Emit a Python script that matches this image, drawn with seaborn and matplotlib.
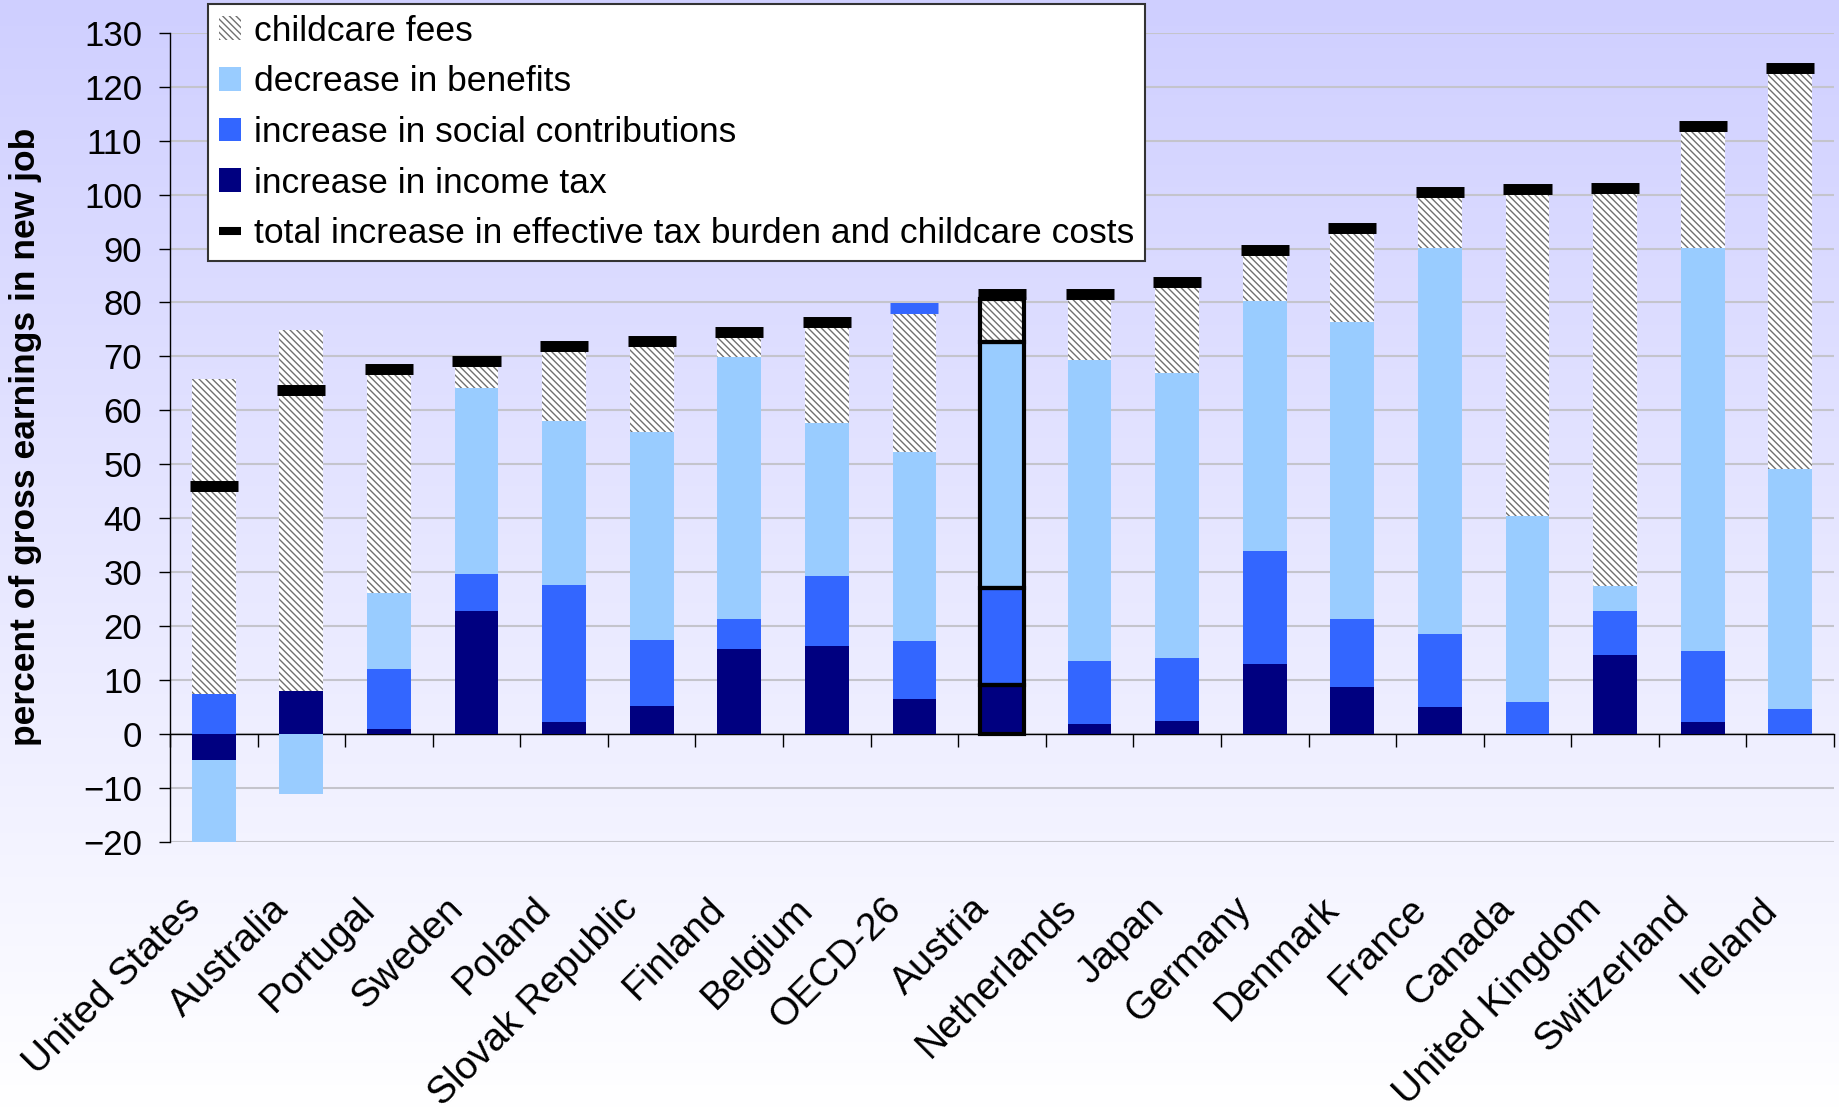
import numpy as np
import matplotlib
matplotlib.use("Agg")
import matplotlib.pyplot as plt
from matplotlib.patches import Patch
from matplotlib.lines import Line2D
from matplotlib.transforms import ScaledTranslation
import seaborn as sns

# data (percent of gross earnings in new job)
countries = ["United States", "Australia", "Portugal", "Sweden", "Poland",
             "Slovak Republic", "Finland", "Belgium", "OECD-26", "Austria",
             "Netherlands", "Japan", "Germany", "Denmark", "France", "Canada",
             "United Kingdom", "Switzerland", "Ireland"]
income_tax = [-4.8, 8.0, 0.9, 22.8, 2.2, 5.2, 15.8, 16.3, 6.5, 9.1,
              1.9, 2.4, 12.9, 8.7, 5.0, 0.0, 14.6, 2.2, 0.0]
social_contrib = [7.5, 0.0, 11.1, 6.9, 25.4, 12.2, 5.5, 13.0, 10.7, 17.9,
                  11.6, 11.7, 21.0, 12.6, 13.5, 6.0, 8.3, 13.2, 4.6]
benefits = [-15.3, -11.1, 14.1, 34.5, 30.4, 38.6, 48.6, 28.3, 35.1, 45.6,
            55.9, 52.8, 46.4, 55.1, 71.6, 34.4, 4.5, 74.7, 44.6]
childcare = [58.4, 66.9, 40.4, 3.9, 13.0, 15.9, 3.6, 17.8, 25.5, 8.1,
             11.2, 16.0, 8.4, 16.4, 9.2, 59.5, 72.9, 21.5, 73.2]
total = [46.0, 63.8, 67.6, 69.1, 72.0, 72.9, 74.6, 76.4, 79.0, 81.6,
         81.5, 83.8, 89.7, 93.8, 100.4, 101.0, 101.3, 112.7, 123.4]

labels = ["childcare fees", "decrease in benefits",
          "increase in social contributions", "increase in income tax",
          "total increase in effective tax burden and childcare costs"]

C_INCOME = "#000080"
C_SOCIAL = "#3366FF"
C_BENEF = "#99CCFF"
HATCH = "\\" * 5
HATCH_COL = "#707070"
highlight = "Austria"
avg_name = "OECD-26"

plt.rcParams["font.family"] = ["Liberation Sans", "DejaVu Sans"]
plt.rcParams["hatch.linewidth"] = 1.0

fig = plt.figure(figsize=(18.4, 11.11), dpi=100)

# lavender -> white background over the whole picture
bg = fig.add_axes([0, 0, 1, 1], zorder=-10)
grad = np.linspace(0, 1, 256)[:, None]
top = np.array([207, 207, 255]) / 255
bot = np.array([255, 255, 255]) / 255
img = top[None, None, :] * (1 - grad[..., None]) + bot[None, None, :] * grad[..., None]
bg.imshow(img, aspect="auto", extent=[0, 1, 0, 1])
bg.axis("off")

ax = fig.add_axes([170 / 1840, 1 - 842 / 1111, 1664 / 1840, (842 - 32.7) / 1111])
ax.set_facecolor("none")

# stack positive and negative parts separately (like Excel)
series = [(income_tax, dict(color=C_INCOME)),
          (social_contrib, dict(color=C_SOCIAL)),
          (benefits, dict(color=C_BENEF)),
          (childcare, dict(color="white", edgecolor=HATCH_COL, hatch=HATCH))]
pos = np.zeros(len(countries))
neg = np.zeros(len(countries))
bottoms = []
for vals, kw in series:
    v = np.array(vals)
    b = np.where(v >= 0, pos, neg)
    bottoms.append(b)
    sns.barplot(x=countries, y=v, bottom=b, width=0.5, linewidth=0,
                saturation=1, errorbar=None, ax=ax, zorder=3, **kw)
    pos = pos + np.clip(v, 0, None)
    neg = neg + np.clip(v, None, 0)

# black outline around the highlighted country
hi = countries.index(highlight)
for (vals, kw), b in zip(series, bottoms):
    sns.barplot(x=[highlight], y=[vals[hi]], bottom=[b[hi]], order=countries,
                width=0.5, fill=False, edgecolor="black", linewidth=3,
                errorbar=None, ax=ax, zorder=4)

# total markers
mcol = [C_SOCIAL if c == avg_name else "black" for c in countries]
ax.scatter(np.arange(len(countries)), total, marker="_", s=34.6 ** 2,
           linewidths=7.9, c=mcol, zorder=5)

ax.set_xlim(-0.5, len(countries) - 0.5)
ax.set_ylim(-20, 130)
ax.set_yticks(np.arange(-20, 131, 10))
ax.yaxis.grid(True, color="#C4C4CC", linewidth=1.5, zorder=0)
ax.set_axisbelow(True)

for s in ["top", "right"]:
    ax.spines[s].set_visible(False)
ax.spines["bottom"].set_position(("data", 0))
ax.spines["bottom"].set_linewidth(1.0)
ax.spines["left"].set_linewidth(1.0)
ax.spines["left"].set_bounds(-20, 130)

ax.tick_params(axis="y", length=8, width=1, pad=12, labelsize=25)
ax.set_xticks(np.arange(len(countries)))
ax.set_xticks(np.arange(len(countries) + 1) - 0.5, minor=True)
ax.tick_params(axis="x", which="major", length=0, pad=122)
ax.tick_params(axis="x", which="minor", length=9, width=1, direction="out")
ax.set_xticklabels(countries, rotation=45, ha="right", va="center",
                   rotation_mode="anchor", fontsize=28)
shift = ScaledTranslation(-19 / 100, 0, fig.dpi_scale_trans)
for t in ax.get_xticklabels():
    t.set_transform(t.get_transform() + shift)
ax.set_xlabel("")

ax.set_ylabel("percent of gross earnings in new job", fontsize=25.5,
              fontweight="bold")
ax.yaxis.set_label_coords(-0.077, 0.5)

handles = [Patch(facecolor="white", edgecolor=HATCH_COL, hatch=HATCH, linewidth=0),
           Patch(facecolor=C_BENEF, linewidth=0),
           Patch(facecolor=C_SOCIAL, linewidth=0),
           Patch(facecolor=C_INCOME, linewidth=0),
           Line2D([], [], color="black", linewidth=5.8, solid_capstyle="butt")]
leg = fig.legend(handles, labels, loc="upper left",
                 bbox_to_anchor=(208 / 1840, 1 - 4 / 1111),
                 bbox_transform=fig.transFigure, borderaxespad=0,
                 fontsize=25.5, frameon=True, fancybox=False, shadow=False,
                 framealpha=1, edgecolor="#333333", facecolor="white",
                 handlelength=0.62, handleheight=0.65, handletextpad=0.39,
                 borderpad=0.3, labelspacing=0.5)
leg.get_frame().set_linewidth(1.5)
leg.set_zorder(10)

fig.savefig("out.png", dpi=100)
